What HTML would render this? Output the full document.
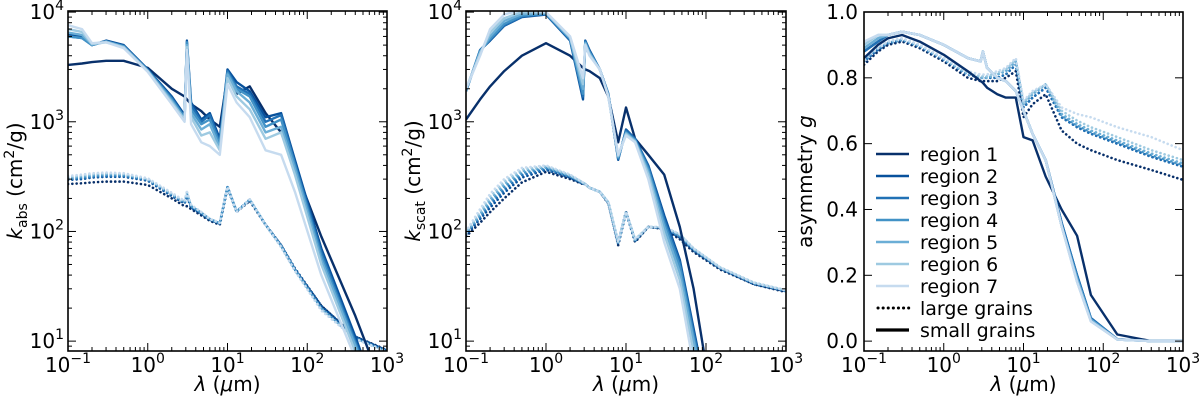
<!DOCTYPE html>
<html><head><meta charset="utf-8">
<style>
html,body{margin:0;padding:0;background:#fff;width:1200px;height:400px;overflow:hidden;}
svg{display:block;font-family:"DejaVu Sans","Liberation Sans",sans-serif;overflow:hidden;}
</style></head>
<body>
<svg id="fig" width="1200" height="400" viewBox="0 0 1200 400" xmlns="http://www.w3.org/2000/svg"></svg>
<script>
// Shared wavelength grid (micron)
const lam = [0.1,0.15,0.2,0.3,0.5,1,2,2.9,3.1,3.5,4.7,6,8,10,13,19,30,47,70,150,400,1000];
const regions = ["region 1","region 2","region 3","region 4","region 5","region 6","region 7"];
const colors = ["#08306b","#08519c","#2171b5","#4292c6","#6baed6","#9ecae1","#c6dbef"];

// Panel 1: kabs small grains
const kabsSmall1 = [3300,3400,3500,3600,3600,3100,2000,1700,1600,1450,1250,1050,900,2600,1800,2100,1200,800,380,90,17,3];
const kabsSmall2 = [6300,6000,5000,5500,5000,3000,1700,1150,5500,1500,1050,1200,700,3000,2300,1900,1100,1200,450,70,11,1.8];
const kabsSmall3 = [6000,5800,5000,5400,4900,2950,1650,1100,5300,1400,1000,1150,650,2900,2100,1800,1000,1150,420,65,10,1.6];
const kabsSmall4 = [6000,5800,5000,5400,4900,2950,1600,1100,5300,1300,950,1050,620,2800,2000,1700,900,1050,400,60,9.5,1.5];
const kabsSmall5 = [6500,6200,5100,5400,4800,2900,1550,1050,5000,1200,850,950,580,2700,1900,1500,800,900,370,55,9,1.4];
const kabsSmall6 = [7000,6600,5100,5300,4800,2900,1500,1050,4800,1100,750,800,550,2500,1700,1300,700,800,330,50,8,1.3];
const kabsSmall7 = [7600,7000,5200,5300,4700,2850,1450,1000,4500,950,650,600,500,2200,1500,1100,550,500,230,40,7,1.1];
// Panel 1: kabs large grains
const kabsLarge1 = [270,275,280,285,285,265,200,170,170,160,140,125,115,250,150,190,115,75,45,21,11,8.3];
const kabsLarge2 = [295,300,310,315,315,290,210,180,210,165,145,128,118,255,152,195,115,75,46,21,11,8.2];
const kabsLarge3 = [300,305,315,320,320,295,215,182,215,168,146,128,118,255,152,195,115,74,45,20,10.8,8.1];
const kabsLarge4 = [305,312,320,328,325,298,218,185,220,170,148,130,119,255,152,195,115,74,45,20,10.6,8.1];
const kabsLarge5 = [310,318,328,335,332,300,220,186,225,172,149,130,119,255,151,195,115,73,44,19.5,10.5,8];
const kabsLarge6 = [315,325,335,340,336,302,222,188,228,174,150,130,120,255,150,195,115,72,44,19.5,10.5,8];
const kabsLarge7 = [320,330,340,345,340,305,225,190,230,175,150,130,120,255,150,195,115,72,44,19,10.5,8];

// Panel 2: kscat small grains
const kscaSmall1 = [1050,1600,2100,2900,4000,5200,4000,3100,3000,2900,2500,1700,650,1350,700,500,330,110,30,1,0.01,0.001];
const kscaSmall2 = [1900,4500,5500,7500,9000,9500,5500,1600,5500,4500,3000,1800,450,850,700,400,140,55,13,0.8,0.01,0.001];
const kscaSmall3 = [1900,4500,5600,7600,9100,9600,5600,1700,5400,4400,3000,1800,460,830,700,390,130,52,12,0.8,0.01,0.001];
const kscaSmall4 = [1900,4400,5700,7800,9300,9700,5700,1800,5300,4300,3000,1750,470,800,680,370,120,48,11,0.7,0.01,0.001];
const kscaSmall5 = [1950,4300,6000,8300,9600,9800,5800,2000,5200,4200,3000,1750,480,790,670,350,110,42,10,0.7,0.01,0.001];
const kscaSmall6 = [2000,4200,6500,8800,10000,9900,5900,2200,5100,4100,3000,1700,490,770,660,330,95,36,8,0.6,0.01,0.001];
const kscaSmall7 = [2000,4000,7000,9500,10500,10000,6000,2500,5000,4000,3000,1700,500,750,650,300,80,30,6,0.5,0.01,0.001];
// Panel 2: kscat large grains
const kscaLarge1 = [90,120,150,200,280,350,300,270,270,250,230,180,75,150,80,110,105,85,65,45,33,28];
const kscaLarge2 = [93,130,165,225,310,365,310,272,270,250,230,182,77,150,82,110,106,88,67,46,33,28.5];
const kscaLarge3 = [95,135,175,240,325,372,315,274,270,250,230,183,78,150,83,110,107,90,68,46,33.5,28.5];
const kscaLarge4 = [96,140,185,255,340,380,318,276,270,250,230,184,78,150,83,110,108,91,68,46.5,33.5,29];
const kscaLarge5 = [97,145,195,270,355,388,322,278,270,250,230,184,79,150,84,110,108,93,69,47,34,29];
const kscaLarge6 = [99,152,208,285,368,395,326,279,270,250,230,185,80,150,85,110,109,94,70,47,34,29];
const kscaLarge7 = [100,160,220,300,380,400,330,280,270,250,230,185,80,150,85,110,110,95,70,47,34,29];

// Panel 3: asymmetry g small grains
const gSmall1 = [0.86,0.90,0.92,0.93,0.91,0.87,0.82,0.79,0.785,0.77,0.75,0.74,0.74,0.62,0.61,0.50,0.40,0.32,0.14,0.02,0.0,0.0];
const gSmall2 = [0.88,0.91,0.93,0.94,0.93,0.90,0.86,0.85,0.88,0.83,0.80,0.79,0.76,0.70,0.63,0.55,0.36,0.20,0.07,0.006,0.0,0.0];
const gSmall3 = [0.88,0.91,0.93,0.94,0.93,0.90,0.86,0.85,0.88,0.83,0.80,0.79,0.76,0.70,0.63,0.55,0.36,0.20,0.07,0.006,0.0,0.0];
const gSmall4 = [0.89,0.92,0.93,0.94,0.93,0.90,0.86,0.85,0.88,0.83,0.80,0.79,0.76,0.70,0.63,0.55,0.35,0.19,0.065,0.005,0.0,0.0];
const gSmall5 = [0.89,0.92,0.93,0.94,0.93,0.90,0.86,0.85,0.88,0.83,0.80,0.79,0.76,0.70,0.63,0.55,0.35,0.19,0.065,0.005,0.0,0.0];
const gSmall6 = [0.90,0.93,0.93,0.94,0.93,0.90,0.86,0.85,0.88,0.83,0.80,0.79,0.76,0.70,0.63,0.55,0.35,0.18,0.06,0.005,0.0,0.0];
const gSmall7 = [0.91,0.93,0.93,0.94,0.93,0.90,0.86,0.85,0.88,0.83,0.80,0.79,0.76,0.70,0.63,0.55,0.35,0.18,0.06,0.005,0.0,0.0];
// Panel 3: asymmetry g large grains
const gLarge1 = [0.84,0.88,0.90,0.91,0.89,0.85,0.80,0.79,0.79,0.79,0.79,0.80,0.82,0.68,0.72,0.75,0.64,0.60,0.58,0.55,0.52,0.49];
const gLarge2 = [0.85,0.885,0.905,0.915,0.895,0.855,0.81,0.80,0.80,0.80,0.80,0.81,0.84,0.71,0.74,0.77,0.68,0.65,0.63,0.60,0.56,0.53];
const gLarge3 = [0.85,0.885,0.905,0.915,0.895,0.855,0.81,0.80,0.80,0.80,0.80,0.81,0.84,0.71,0.74,0.77,0.68,0.65,0.63,0.60,0.56,0.53];
const gLarge4 = [0.855,0.89,0.907,0.917,0.897,0.857,0.812,0.80,0.80,0.80,0.81,0.82,0.85,0.72,0.75,0.78,0.685,0.655,0.635,0.605,0.565,0.535];
const gLarge5 = [0.855,0.89,0.907,0.917,0.897,0.857,0.812,0.80,0.80,0.80,0.81,0.82,0.85,0.72,0.75,0.78,0.69,0.66,0.64,0.61,0.57,0.54];
const gLarge6 = [0.86,0.89,0.91,0.92,0.90,0.86,0.815,0.805,0.805,0.805,0.815,0.825,0.855,0.725,0.755,0.78,0.70,0.67,0.65,0.62,0.58,0.55];
const gLarge7 = [0.86,0.89,0.91,0.92,0.90,0.86,0.82,0.81,0.81,0.81,0.82,0.83,0.86,0.73,0.76,0.78,0.71,0.69,0.68,0.65,0.62,0.58];

const NS = "http://www.w3.org/2000/svg";
const svg = document.getElementById("fig");
function mk(tag, attrs, parent){
  const e = document.createElementNS(NS, tag);
  for (const k in attrs) e.setAttribute(k, attrs[k]);
  (parent||svg).appendChild(e);
  return e;
}

const panels = [
  {id:"kabs", x0:68, x1:387, y0:11, y1:351, logY:true, yMin:0.91, yMax:4.01,
   small:[kabsSmall1,kabsSmall2,kabsSmall3,kabsSmall4,kabsSmall5,kabsSmall6,kabsSmall7],
   large:[kabsLarge1,kabsLarge2,kabsLarge3,kabsLarge4,kabsLarge5,kabsLarge6,kabsLarge7],
   ylabel:"abs"},
  {id:"kscat", x0:466, x1:786, y0:11, y1:351, logY:true, yMin:0.91, yMax:4.01,
   small:[kscaSmall1,kscaSmall2,kscaSmall3,kscaSmall4,kscaSmall5,kscaSmall6,kscaSmall7],
   large:[kscaLarge1,kscaLarge2,kscaLarge3,kscaLarge4,kscaLarge5,kscaLarge6,kscaLarge7],
   ylabel:"scat"},
  {id:"g", x0:864, x1:1183, y0:12, y1:351, logY:false, yMin:-0.03, yMax:1.0,
   small:[gSmall1,gSmall2,gSmall3,gSmall4,gSmall5,gSmall6,gSmall7],
   large:[gLarge1,gLarge2,gLarge3,gLarge4,gLarge5,gLarge6,gLarge7],
   ylabel:"g"}
];

panels.forEach((p, pi) => {
  const xs = v => p.x0 + (Math.log10(v) + 1) / 4 * (p.x1 - p.x0);
  const ys = v => {
    const t = p.logY ? Math.log10(Math.max(v,1e-6)) : v;
    return p.y1 - (t - p.yMin) / (p.yMax - p.yMin) * (p.y1 - p.y0);
  };
  const g = mk("g", {});
  
  
  const cp = mk("clipPath", {id:"clip"+pi}, g);
  mk("rect", {x:p.x0, y:p.y0, width:p.x1-p.x0, height:p.y1-p.y0}, cp);
  const plot = mk("g", {"clip-path":"url(#clip"+pi+")"}, g);

  // build polyline, truncating segments at the panel's vertical limits
  const lo = p.y0 - 4, hi = p.y1 + 4;
  function path(arr){
    const pts = arr.map((v,i)=>[xs(lam[i]), ys(v)]);
    let d = "", pen = false;
    for (let i=0; i<pts.length; i++){
      const [x,y] = pts[i];
      const inside = y >= lo && y <= hi;
      if (i>0){
        const [px,py] = pts[i-1];
        const pin = py >= lo && py <= hi;
        if (pin && !inside){
          const b = y > hi ? hi : lo, t = (b-py)/(y-py);
          d += "L" + (px+t*(x-px)).toFixed(1) + "," + b.toFixed(1);
          pen = false; continue;
        }
        if (!pin && inside){
          const b = py > hi ? hi : lo, t = (b-py)/(y-py);
          d += "M" + (px+t*(x-px)).toFixed(1) + "," + b.toFixed(1);
          pen = true;
        }
      }
      if (inside){ d += (pen ? "L" : "M") + x.toFixed(1) + "," + y.toFixed(1); pen = true; }
    }
    return d;
  }
  p.large.forEach((arr, r) => {
    const e = mk("path", {d:path(arr), fill:"none", stroke:colors[r], "stroke-width":2.6,
      "stroke-dasharray":"0.1,4.2", "stroke-linecap":"round", "stroke-linejoin":"round"}, plot);
    
    
  });
  p.small.forEach((arr, r) => {
    const e = mk("path", {d:path(arr), fill:"none", stroke:colors[r], "stroke-width":2.4,
      "stroke-linejoin":"round"}, plot);
    
    
  });

  const fr = mk("rect", {x:p.x0, y:p.y0, width:p.x1-p.x0, height:p.y1-p.y0, fill:"none", stroke:"#000", "stroke-width":1.6}, g);
  
  

  const ticks = mk("g", {stroke:"#000", "stroke-width":1}, g);
  for (let d=-1; d<=3; d++){
    for (let m=1; m<=9; m++){
      if (d===3 && m>1) break;
      const x = xs(m*Math.pow(10,d));
      const L = m===1 ? 8 : 4;
      mk("line", {x1:x, x2:x, y1:p.y1, y2:p.y1-L}, ticks);
      mk("line", {x1:x, x2:x, y1:p.y0, y2:p.y0+L}, ticks);
    }
    const t = mk("text", {x:xs(Math.pow(10,d)), y:372, "text-anchor":"middle", "font-size":20, fill:"#000"}, g);
    
    
    t.innerHTML = '10<tspan dy="-9" font-size="14">' + (d<0 ? "−1" : d) + '</tspan>';
  }
  if (p.logY){
    for (let d=0; d<=4; d++){
      for (let m=1; m<=9; m++){
        const v = m*Math.pow(10,d);
        const lv = Math.log10(v);
        if (lv < p.yMin || lv > p.yMax) continue;
        const y = ys(v), L = m===1 ? 8 : 4;
        mk("line", {x1:p.x0, x2:p.x0+L, y1:y, y2:y}, ticks);
        mk("line", {x1:p.x1, x2:p.x1-L, y1:y, y2:y}, ticks);
      }
      if (d>=1){
        const t = mk("text", {x:p.x0-4, y:ys(Math.pow(10,d))+7, "text-anchor":"end", "font-size":20, fill:"#000"}, g);
        
        
        t.innerHTML = '10<tspan dy="-9" font-size="14">' + d + '</tspan>';
      }
    }
  } else {
    for (let k=0; k<=5; k++){
      const v = k*0.2, y = ys(v);
      mk("line", {x1:p.x0, x2:p.x0+8, y1:y, y2:y}, ticks);
      mk("line", {x1:p.x1, x2:p.x1-8, y1:y, y2:y}, ticks);
      const t = mk("text", {x:p.x0-6, y:y+7, "text-anchor":"end", "font-size":20, fill:"#000"}, g);
      
      
      t.textContent = v.toFixed(1);
    }
  }
  const xl = mk("text", {x:(p.x0+p.x1)/2, y:391, "text-anchor":"middle", "font-size":20, fill:"#000"}, g);
  
  
  xl.innerHTML = '<tspan font-style="italic">λ</tspan> (<tspan font-style="italic">μ</tspan>m)';
  const cy = (p.y0+p.y1)/2;
  const yl = mk("text", {x:0, y:0, "text-anchor":"middle", "font-size":20, fill:"#000",
    transform:"translate(" + (p.x0-46) + "," + cy + ") rotate(-90)"}, g);
  
  
  if (p.ylabel === "g") {
    yl.setAttribute("transform", "translate(" + (p.x0-52) + "," + cy + ") rotate(-90)");
    yl.innerHTML = 'asymmetry <tspan font-style="italic">g</tspan>';
  } else {
    yl.innerHTML = '<tspan font-style="italic">k</tspan><tspan font-size="14" dy="5">' + p.ylabel + '</tspan><tspan dy="-5"> (cm</tspan><tspan font-size="14" dy="-8">2</tspan><tspan dy="8">/g)</tspan>';
  }
});

const leg = mk("g", {});


const legY0 = 154, legDy = 22;
regions.forEach((name, r) => {
  const y = legY0 + r*legDy;
  const ent = mk("g", {}, leg);
  
  
  mk("line", {x1:876, x2:909, y1:y, y2:y, stroke:colors[r], "stroke-width":2.4}, ent);
  const t = mk("text", {x:920, y:y+7, "font-size":19, fill:"#000"}, ent);
  t.textContent = name;
});
[["large grains", true], ["small grains", false]].forEach((it, k) => {
  const y = legY0 + (7+k)*legDy;
  const ent = mk("g", {}, leg);
  
  
  if (it[1]) mk("line", {x1:878, x2:909, y1:y, y2:y, stroke:"#000", "stroke-width":3, "stroke-dasharray":"0.1,5", "stroke-linecap":"round"}, ent);
  else mk("line", {x1:876, x2:909, y1:y, y2:y, stroke:"#000", "stroke-width":3.2}, ent);
  const t = mk("text", {x:920, y:y+7, "font-size":19, fill:"#000"}, ent);
  t.textContent = it[0];
});
</script>
</body></html>
